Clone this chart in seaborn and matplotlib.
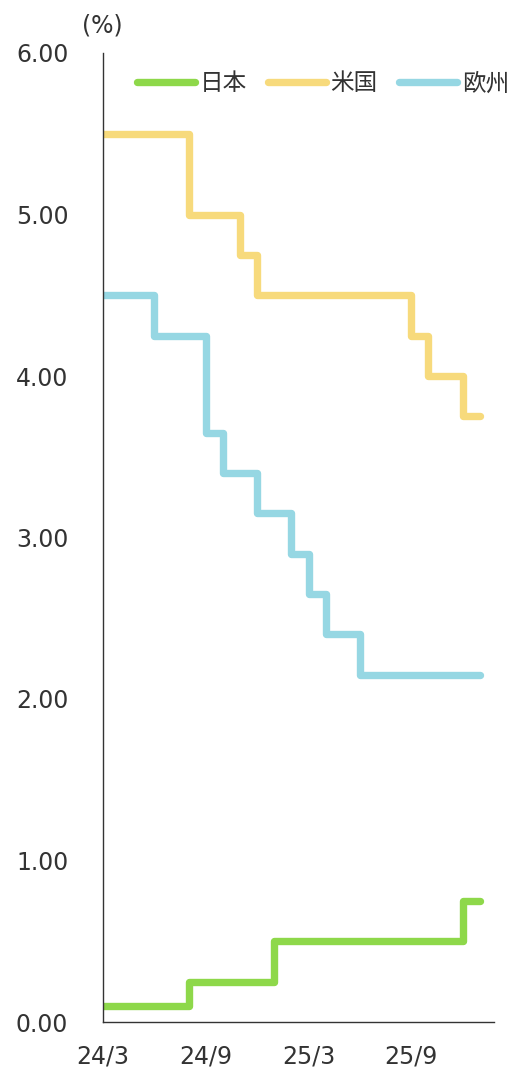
import matplotlib
matplotlib.use("Agg")
import matplotlib.pyplot as plt
import seaborn as sns
import pandas as pd
import numpy as np

# Monthly observations, 2024/3 .. 2026/1 (index 0..22)
months = ["24/3","24/4","24/5","24/6","24/7","24/8","24/9","24/10","24/11","24/12",
          "25/1","25/2","25/3","25/4","25/5","25/6","25/7","25/8","25/9","25/10",
          "25/11","25/12","26/1"]
japan = [0.10,0.10,0.10,0.10,0.10,0.25,0.25,0.25,0.25,0.25,
         0.50,0.50,0.50,0.50,0.50,0.50,0.50,0.50,0.50,0.50,
         0.50,0.75,0.75]
usa = [5.50,5.50,5.50,5.50,5.50,5.00,5.00,5.00,4.75,4.50,
       4.50,4.50,4.50,4.50,4.50,4.50,4.50,4.50,4.25,4.00,
       4.00,3.75,3.75]
europe = [4.50,4.50,4.50,4.25,4.25,4.25,3.65,3.40,3.40,3.15,
          3.15,2.90,2.65,2.40,2.40,2.15,2.15,2.15,2.15,2.15,
          2.15,2.15,2.15]
regions = ["日本", "米国", "欧州"]
colors = ["#8ED84A", "#F7DA7C", "#96D7E3"]
xtick_pos = [0, 6, 12, 18]
xtick_labels = ["24/3", "24/9", "25/3", "25/9"]
ytick_vals = [0, 1, 2, 3, 4, 5, 6]

n = len(months)
df = pd.DataFrame({
    "idx": list(range(n)) * 3,
    "rate": japan + usa + europe,
    "region": [regions[0]] * n + [regions[1]] * n + [regions[2]] * n,
})

sns.set_style("white")
plt.rcParams["font.family"] = ["DejaVu Sans", "Noto Sans CJK JP"]

fig = plt.figure(figsize=(5.13, 10.69), dpi=100)
ax = fig.add_axes([103/513, 1-1022/1069, (493.5-103)/513, (1022-53)/1069])

sns.lineplot(data=df, x="idx", y="rate", hue="region", hue_order=regions,
             palette=colors, drawstyle="steps-post", linewidth=5.3,
             solid_capstyle="round", solid_joinstyle="round", legend=False, ax=ax)

ax.set_xlim(0, 22.8)
ax.set_ylim(0, 6)
ax.set_xticks(xtick_pos)
ax.set_xticklabels(xtick_labels)
ax.set_yticks(ytick_vals)
ax.set_yticklabels([f"{v:.2f}" for v in ytick_vals])
ax.set_xlabel("")
ax.set_ylabel("")
for s in ["top", "right"]:
    ax.spines[s].set_visible(False)
for s in ["left", "bottom"]:
    ax.spines[s].set_color("#333333")
    ax.spines[s].set_linewidth(1.0)
ax.tick_params(axis="both", length=0, labelsize=17, colors="#333333")
ax.tick_params(axis="y", pad=25)
ax.tick_params(axis="x", pad=16)
for lab in ax.get_xticklabels() + ax.get_yticklabels():
    lab.set_color("#333333")

leg = ax.legend(handles=ax.lines[:3], labels=regions, loc="center left",
                bbox_to_anchor=(137/513, 1-84/1069), bbox_transform=fig.transFigure,
                ncol=3, frameon=False, fontsize=17, handlelength=2.45,
                handletextpad=0.2, columnspacing=0.9, borderpad=0, borderaxespad=0)
for t in leg.get_texts():
    t.set_family(["Noto Sans CJK JP", "DejaVu Sans"])
    t.set_color("#333333")

fig.text(102/513, 1-26/1069, "(%)", ha="center", va="center", fontsize=17, color="#333333")

fig.savefig("out.png", dpi=100)
